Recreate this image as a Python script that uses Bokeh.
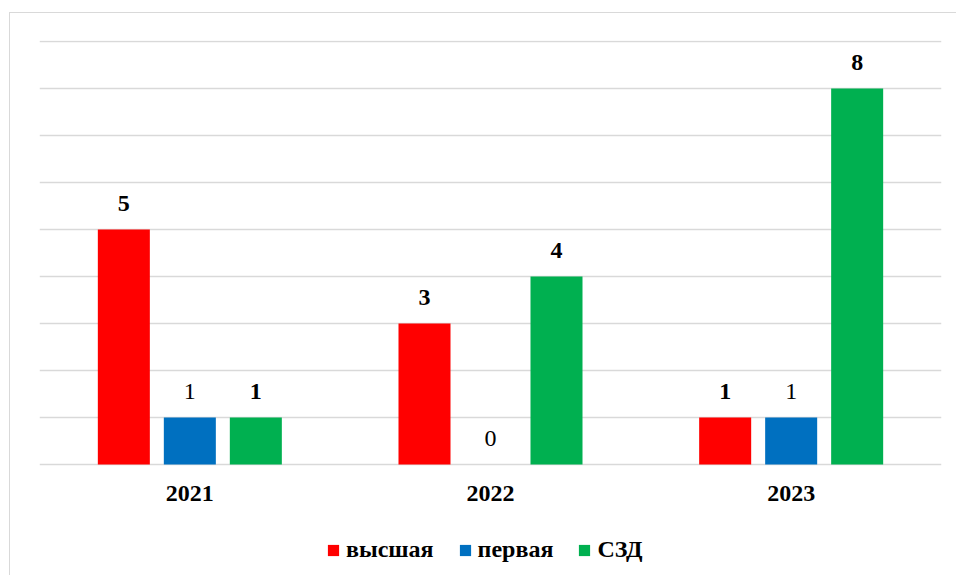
from bokeh.plotting import figure
from bokeh.models import FactorRange, Range1d, FixedTicker, Legend, ColumnDataSource
from bokeh.transform import dodge
from bokeh.core.properties import value
from bokeh.embed import file_html
from bokeh.resources import INLINE

years = ["2021", "2022", "2023"]
vysshaya = [5, 3, 1]
pervaya = [1, 0, 1]
szd = [1, 4, 8]
series_names = ["высшая", "первая", "СЗД"]
colors = ["#FF0000", "#0070C0", "#00B050"]
grid_ticks = [0, 1, 2, 3, 4, 5, 6, 7, 8, 9]

FONT = "Liberation Serif"

src = ColumnDataSource(dict(
    years=years, v=vysshaya, p=pervaya, s=szd,
    vl=[str(x) for x in vysshaya], pl=[str(x) for x in pervaya], sl=[str(x) for x in szd],
    base=[0] * len(years),
))

p = figure(
    x_range=FactorRange(factors=years, range_padding=0),
    y_range=Range1d(-2.362, 9.0213),
    frame_width=902, frame_height=535,
    output_backend="svg", toolbar_location=None,
    min_border_left=29, min_border_right=15, min_border_top=27, min_border_bottom=0,
)
p.margin = (12, 0, 0, 9)
p.styles = {"border-top": "1px solid #d9d9d9", "border-left": "1px solid #d9d9d9"}
p.outline_line_color = None
p.background_fill_color = "white"
p.border_fill_color = "white"

offsets = [-0.2195, 0.0, 0.2195]
fields = ["v", "p", "s"]
label_fields = ["vl", "pl", "sl"]
styles = ["bold", "normal", "bold"]
items = []
for off, f, lf, c, name, st in zip(offsets, fields, label_fields, colors, series_names, styles):
    r = p.vbar(x=dodge("years", off, range=p.x_range), top=f, width=0.173,
               source=src, fill_color=c, line_color=None)
    items.append((name, [r]))
    p.text(x=dodge("years", off, range=p.x_range), y=f, text=lf, source=src,
           text_align="center", text_baseline="middle", y_offset=-26,
           text_font=value(FONT), text_font_size="24px", text_font_style=st,
           text_color="black")

# category labels under the bars
p.text(x="years", y="base", text="years", source=src,
       text_align="center", text_baseline="middle", y_offset=29,
       text_font=value(FONT), text_font_size="24px", text_font_style="bold",
       text_color="black")

p.xaxis.visible = False
p.yaxis.visible = False
p.xgrid.visible = False
p.ygrid.ticker = FixedTicker(ticks=grid_ticks)
p.ygrid.grid_line_color = "#d9d9d9"
p.ygrid.grid_line_width = 1.5

legend = Legend(items=items, orientation="horizontal", location=(287, 12),
                glyph_width=14, glyph_height=14, label_standoff=6, spacing=24,
                label_text_font=FONT, label_text_font_size="24px",
                label_text_font_style="bold", label_text_color="black",
                border_line_color=None, background_fill_alpha=0,
                padding=0, margin=0)
p.add_layout(legend, "center")

open("out.html", "w").write(file_html(p, INLINE))
